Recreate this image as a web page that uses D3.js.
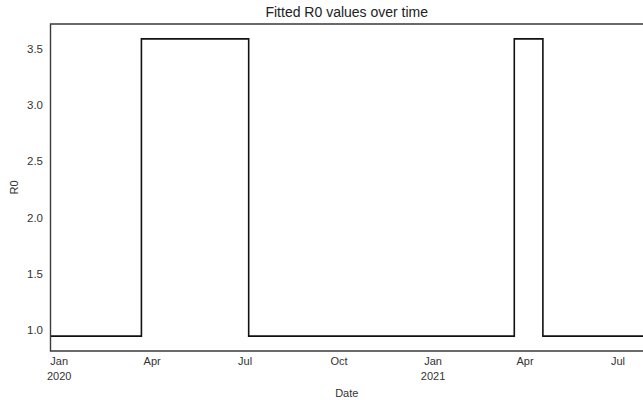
<!DOCTYPE html>
<html>
<head>
<meta charset="utf-8">
<script src="https://cdn.jsdelivr.net/npm/d3@7"></script>
<style>
  body { margin: 0; background: #fff; }
  svg { display: block; font-family: "Liberation Sans", Arial, sans-serif; }
</style>
</head>
<body>
<div id="chart"></div>
<script>
// step change points of the fitted R0 series (value holds until next date)
const changeDates = ['2019-12-24', '2020-03-22', '2020-07-05', '2021-03-22', '2021-04-19', '2021-07-26'];
const r0Values = [0.945, 3.585, 0.945, 3.585, 0.945, 0.945];

const yTicks = [1.0, 1.5, 2.0, 2.5, 3.0, 3.5];
const xTickDates = ['2020-01-01', '2020-04-01', '2020-07-01', '2020-10-01', '2021-01-01', '2021-04-01', '2021-07-01'];

const width = 643, height = 400;
const margin = { top: 24, right: 0, bottom: 49, left: 50.5 };
const fontSize = 11;

const parse = d3.utcParse('%Y-%m-%d');
const data = changeDates.map((d, i) => ({ date: parse(d), value: r0Values[i] }));

const svg = d3.select('#chart').append('svg')
    .attr('width', width)
    .attr('height', height);

const x = d3.scaleUtc()
    .domain(d3.extent(data, d => d.date))
    .range([margin.left, width - margin.right]);

// 5% padding like matplotlib
const lo = d3.min(r0Values), hi = d3.max(r0Values);
const pad = (hi - lo) * 0.05;
const y = d3.scaleLinear()
    .domain([lo - pad, hi + pad])
    .range([height - margin.bottom, margin.top]);

const line = d3.line()
    .x(d => x(d.date))
    .y(d => y(d.value))
    .curve(d3.curveStepAfter);

svg.append('path')
    .datum(data)
    .attr('d', line)
    .attr('fill', 'none')
    .attr('stroke', '#111')
    .attr('stroke-width', 1.6);

// spines
const spineColor = '#3a3a3a';
svg.append('path')
    .attr('d', `M${width},${margin.top}H${margin.left}V${height - margin.bottom}H${width}`)
    .attr('fill', 'none')
    .attr('stroke', spineColor)
    .attr('stroke-width', 1.4);

// y axis
const yAxis = svg.append('g')
    .attr('transform', `translate(${margin.left},0)`)
    .call(d3.axisLeft(y).tickValues(yTicks).tickFormat(d3.format('.1f')).tickSize(0).tickPadding(7.5));
yAxis.select('.domain').remove();
yAxis.selectAll('text').attr('font-size', fontSize + 0.5).attr('fill', '#333').attr('font-family', null);

// x axis, quarterly with year under January
const monthFmt = d3.utcFormat('%b');
const xAxis = svg.append('g')
    .attr('transform', `translate(0,${height - margin.bottom})`)
    .call(d3.axisBottom(x).tickValues(xTickDates.map(parse)).tickFormat(monthFmt).tickSize(0).tickPadding(6.5));
xAxis.select('.domain').remove();
xAxis.selectAll('text').attr('font-size', fontSize).attr('fill', '#333').attr('font-family', null);
xAxis.selectAll('.tick')
    .filter(d => d.getUTCMonth() === 0)
    .append('text')
    .attr('y', 29)
    .attr('fill', '#333')
    .attr('font-size', fontSize)
    .text(d => d.getUTCFullYear());

// labels
svg.append('text')
    .attr('x', (margin.left + width) / 2)
    .attr('y', 397)
    .attr('text-anchor', 'middle')
    .attr('font-size', fontSize)
    .attr('fill', '#333')
    .text('Date');

svg.append('text')
    .attr('transform', `translate(18,${(margin.top + height - margin.bottom) / 2}) rotate(-90)`)
    .attr('text-anchor', 'middle')
    .attr('font-size', fontSize)
    .attr('fill', '#333')
    .text('R0');

svg.append('text')
    .attr('x', (margin.left + width) / 2)
    .attr('y', 17)
    .attr('text-anchor', 'middle')
    .attr('font-size', 14)
    .attr('fill', '#222')
    .text('Fitted R0 values over time');
</script>
</body>
</html>
